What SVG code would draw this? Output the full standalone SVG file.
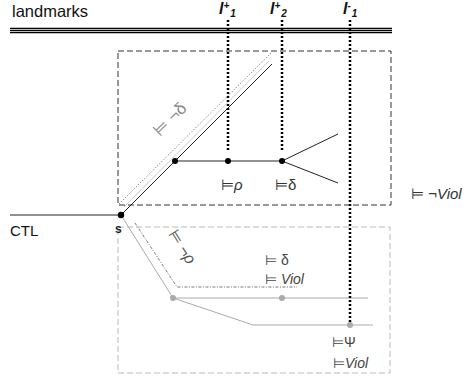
<svg xmlns="http://www.w3.org/2000/svg" width="467" height="378" viewBox="0 0 467 378">
<defs>
<style>
text{font-family:"Liberation Sans",Arial,sans-serif;}
.lbl{font-size:16px;fill:#111;}
.lm{font-size:16px;font-weight:bold;font-style:italic;fill:#111;}
.sub{font-size:10px;font-weight:bold;font-style:italic;}
.f{font-size:15px;fill:#333;}
.fg{font-size:14px;fill:#444;}
.it{font-style:italic;}
.vdot{stroke:#000;stroke-width:2.5;stroke-dasharray:2,2;fill:none;}
.blk{stroke:#222;stroke-width:1;fill:none;}
.gry{stroke:#aaa;stroke-width:1;fill:none;}
</style>
</defs>
<rect width="467" height="378" fill="#fff"/>
<g id="header">
<text class="lbl" x="12" y="17" style="font-size:16.5px">landmarks</text>
<line x1="10" y1="28.5" x2="392" y2="28.5" stroke="#000" stroke-width="1.3"/>
<line x1="10" y1="30.6" x2="392" y2="30.6" stroke="#000" stroke-width="1.3"/>
<line x1="10" y1="32.7" x2="392" y2="32.7" stroke="#000" stroke-width="1.3"/>
<text class="lm" x="219" y="14">l<tspan class="sub" dy="-5">+</tspan><tspan class="sub" dx="1" dy="8">1</tspan></text>
<text class="lm" x="270" y="14">l<tspan class="sub" dy="-5">+</tspan><tspan class="sub" dx="1" dy="8">2</tspan></text>
<text class="lm" x="343" y="14">l<tspan class="sub" dy="-5">-</tspan><tspan class="sub" dx="1" dy="8">1</tspan></text>
</g>
<g id="boxes">
<rect x="118" y="51" width="273" height="154" fill="none" stroke="#333" stroke-width="1" stroke-dasharray="6,3"/>
<rect x="118" y="227" width="272" height="146" fill="none" stroke="#bbb" stroke-width="1" stroke-dasharray="6,3"/>
</g>
<g id="connectors">
<line class="blk" x1="10" y1="215" x2="121" y2="215"/>
<line x1="124" y1="207" x2="269" y2="61" stroke="#ccc" stroke-width="1"/>
<line class="blk" x1="121" y1="215" x2="272" y2="64"/>
<line x1="119" y1="204" x2="272" y2="52" stroke="#333" stroke-width="0.8" stroke-dasharray="1,2"/>
<line class="blk" x1="175" y1="161" x2="282" y2="161"/>
<line class="blk" x1="282" y1="161" x2="338" y2="134"/>
<line class="blk" x1="282" y1="161" x2="338" y2="183"/>
<line class="gry" x1="121" y1="215" x2="173" y2="298"/>
<line class="gry" x1="173" y1="298" x2="368" y2="298"/>
<polyline class="gry" points="173,298 253,325 373,325"/>
<polyline points="135,223 177,287 297,287" fill="none" stroke="#555" stroke-width="0.8" stroke-dasharray="3,1.5,1,1.5"/>
<line class="vdot" x1="228" y1="20" x2="228" y2="152"/>
<line class="vdot" x1="282" y1="20" x2="282" y2="152"/>
<line class="vdot" x1="350" y1="20" x2="350" y2="324"/>
</g>
<g id="node-s">
<circle cx="121" cy="215" r="3.2" fill="#000"/>
<text x="115" y="233" style="font-size:12px;font-weight:bold" fill="#222">s</text>
<text class="lbl" x="10" y="236" style="font-size:15px">CTL</text>
</g>
<g id="node-a"><circle cx="175" cy="161" r="3" fill="#000"/></g>
<g id="node-b"><circle cx="228" cy="161" r="3" fill="#000"/><text class="f" x="221" y="190">⊨<tspan class="it">ρ</tspan></text></g>
<g id="node-c"><circle cx="282" cy="161" r="3" fill="#000"/><text class="f" x="275" y="190">⊨δ</text></g>
<g id="label-notdelta"><text class="f" style="fill:#888;font-size:17px" transform="translate(160,137) rotate(-45)">⊨ ¬δ</text></g>
<g id="label-notviol"><text class="f" x="411" y="199">⊨ ¬<tspan class="it">Viol</tspan></text></g>
<g id="label-notrho"><text class="f" style="fill:#555;font-size:16px" transform="translate(168,234) rotate(58)">⊨ ¬<tspan class="it">ρ</tspan></text></g>
<g id="node-g1"><circle cx="173" cy="298" r="3" fill="#aaa"/></g>
<g id="node-g2"><circle cx="282" cy="298" r="3" fill="#aaa"/><text class="fg" x="265" y="265">⊨ δ</text><text class="fg" x="265" y="284">⊨ <tspan class="it">Viol</tspan></text></g>
<g id="node-g3"><circle cx="350" cy="325" r="3" fill="#aaa"/><text class="fg" x="332" y="347">⊨Ψ</text><text class="fg" x="333" y="368">⊨<tspan class="it">Viol</tspan></text></g>
</svg>
